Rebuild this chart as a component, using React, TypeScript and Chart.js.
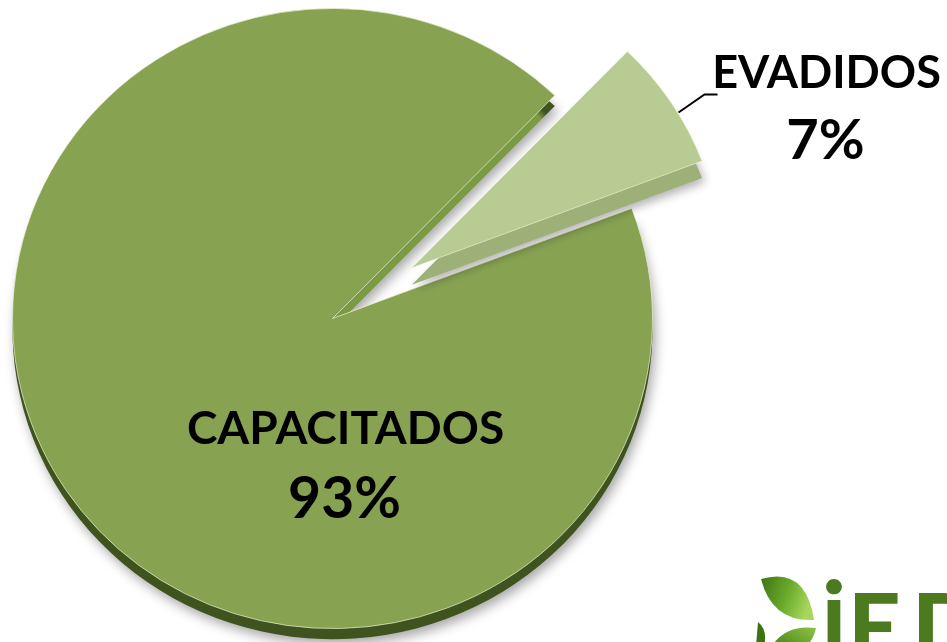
import React, { useEffect, useRef } from "react";
import { Chart, registerables } from "chart.js";

Chart.register(...registerables);

// ---- data ----
const categories = ["CAPACITADOS", "EVADIDOS"];
const values = [93, 7];
const percentLabels = ["93%", "7%"];

// ---- style ----
const TOP_COLORS = ["#87A352", "#B7CB92"];
const BORDER = "rgba(236,244,214,0.7)";
const SCALE_Y = 0.969;
const EXPLODE = 95;
const SMALL_K = 0.97;
const MAIN_DEPTH = 11;
const SMALL_DEPTH = 18;
const SMALL_SIDE = "#9DB078";
const FONT = "Lato, 'Open Sans', sans-serif";

function slicePath(ctx: CanvasRenderingContext2D, a: any) {
  ctx.beginPath();
  ctx.moveTo(a.x, a.y);
  ctx.arc(a.x, a.y, a.outerRadius, a.startAngle, a.endAngle);
  ctx.closePath();
}

const pie3d = {
  id: "pie3d",
  afterUpdate(chart: any) {
    const arc: any = chart.getDatasetMeta(0).data[1];
    if (!arc || arc._wrapped) return;
    arc._wrapped = true;
    const orig = arc.draw;
    arc.draw = function (ctx: CanvasRenderingContext2D, area: any) {
      const mid = (this.startAngle + this.endAngle) / 2;
      const dx = Math.cos(mid) * EXPLODE;
      const dy = Math.sin(mid) * EXPLODE;
      ctx.save();
      ctx.translate(this.x + dx, this.y + dy);
      ctx.scale(SMALL_K, SMALL_K);
      ctx.translate(-this.x, -this.y);
      ctx.save();
      ctx.translate(0, SMALL_DEPTH);
      ctx.shadowColor = "rgba(0,0,0,0.30)";
      ctx.shadowBlur = 10;
      ctx.shadowOffsetX = 3;
      ctx.shadowOffsetY = 4;
      slicePath(ctx, this);
      ctx.fillStyle = SMALL_SIDE;
      ctx.fill();
      ctx.restore();
      orig.call(this, ctx, area);
      ctx.restore();
    };
  },
  beforeDatasetsDraw(chart: any) {
    const ctx: CanvasRenderingContext2D = chart.ctx;
    const arc: any = chart.getDatasetMeta(0).data[0];
    const { x, y, outerRadius: r } = arc;
    ctx.save();
    ctx.translate(x, y);
    ctx.scale(1, SCALE_Y);
    ctx.translate(-x, -y);
    ctx.save();
    ctx.translate(0, MAIN_DEPTH);
    const g = ctx.createRadialGradient(x, y, 0, x, y, r);
    g.addColorStop(0, "#7B9A44");
    g.addColorStop(0.94, "#7B9A44");
    g.addColorStop(0.965, "#3E531E");
    g.addColorStop(1, "#3E531E");
    ctx.shadowColor = "rgba(0,0,0,0.35)";
    ctx.shadowBlur = 12;
    ctx.shadowOffsetX = 3;
    ctx.shadowOffsetY = 5;
    slicePath(ctx, arc);
    ctx.fillStyle = g;
    ctx.fill();
    ctx.restore();
  },
  afterDatasetsDraw(chart: any) {
    chart.ctx.restore();
  },
  afterDraw(chart: any) {
    const ctx: CanvasRenderingContext2D = chart.ctx;
    const arc: any = chart.getDatasetMeta(0).data[0];
    const cx = arc.x;
    const cy = arc.y;
    ctx.save();
    ctx.fillStyle = "#000";
    ctx.textAlign = "center";
    ctx.textBaseline = "alphabetic";
    // main label
    ctx.font = `bold 46px ${FONT}`;
    ctx.fillText(categories[0], cx + 13, cy + 125);
    ctx.font = `bold 57px ${FONT}`;
    ctx.fillText(percentLabels[0], cx + 12, cy + 199);
    // small label
    ctx.font = `bold 45px ${FONT}`;
    ctx.fillText(categories[1], cx + 494, cy - 231);
    ctx.font = `bold 56px ${FONT}`;
    ctx.fillText(percentLabels[1], cx + 493, cy - 160);
    // leader line
    ctx.strokeStyle = "#000";
    ctx.lineWidth = 2;
    ctx.beginPath();
    ctx.moveTo(cx + 346, cy - 206);
    ctx.lineTo(cx + 372, cy - 224);
    ctx.lineTo(cx + 385, cy - 224);
    ctx.stroke();
    ctx.restore();
  },
};

export default function App() {
  const ref = useRef<HTMLCanvasElement>(null);
  useEffect(() => {
    if (!ref.current) return;
    const chart = new Chart(ref.current, {
      type: "pie",
      data: {
        labels: categories,
        datasets: [
          {
            data: values,
            backgroundColor: TOP_COLORS,
            borderColor: BORDER,
            borderWidth: 1,
            clip: false as any,
          },
        ],
      },
      options: {
        responsive: false,
        maintainAspectRatio: false,
        devicePixelRatio: 1,
        animation: false,
        events: [],
        rotation: 69.2,
        radius: 320,
        layout: { padding: { left: 0, top: 0, right: 282, bottom: 5 } },
        plugins: { legend: { display: false }, tooltip: { enabled: false } },
      } as any,
      plugins: [pie3d as any],
    });
    return () => chart.destroy();
  }, []);

  const green = "#4B7A1F";
  const letter: React.CSSProperties = {
    position: "absolute",
    fontFamily: FONT,
    fontWeight: 900,
    fontSize: 92,
    lineHeight: "92px",
    color: green,
  };
  return (
    <div
      style={{
        position: "fixed",
        left: 0,
        top: 0,
        width: 947,
        height: 642,
        background: "#fff",
        overflow: "hidden",
      }}
    >
      <canvas ref={ref} width={947} height={642} style={{ display: "block", position: "absolute", left: 0, top: 0 }} />
      <svg width={947} height={642} style={{ position: "absolute", left: 0, top: 0 }}>
        <defs>
          <linearGradient id="leafA" x1="0" y1="0" x2="1" y2="0.3">
            <stop offset="0" stopColor="#3C7412" />
            <stop offset="0.6" stopColor="#6FAE2E" />
            <stop offset="1" stopColor="#A6D65A" />
          </linearGradient>
          <linearGradient id="leafB" x1="0" y1="1" x2="1" y2="0">
            <stop offset="0" stopColor="#3C7412" />
            <stop offset="1" stopColor="#8CC442" />
          </linearGradient>
        </defs>
        <path d="M 761 579 Q 806 566 814 620 Q 772 622 761 579 Z" fill="url(#leafA)" />
        <path d="M 772 646 Q 786 624 816 628 Q 812 648 790 656 Z" fill="url(#leafB)" />
        <path d="M 758 622 Q 768 630 764 646 L 756 646 Z" fill="#3C7412" />
      </svg>
      <span style={{ ...letter, left: 822, top: 566 }}>i</span>
      <span style={{ ...letter, left: 848, top: 579 }}>E</span>
      <span style={{ ...letter, left: 912, top: 579 }}>D</span>
    </div>
  );
}
